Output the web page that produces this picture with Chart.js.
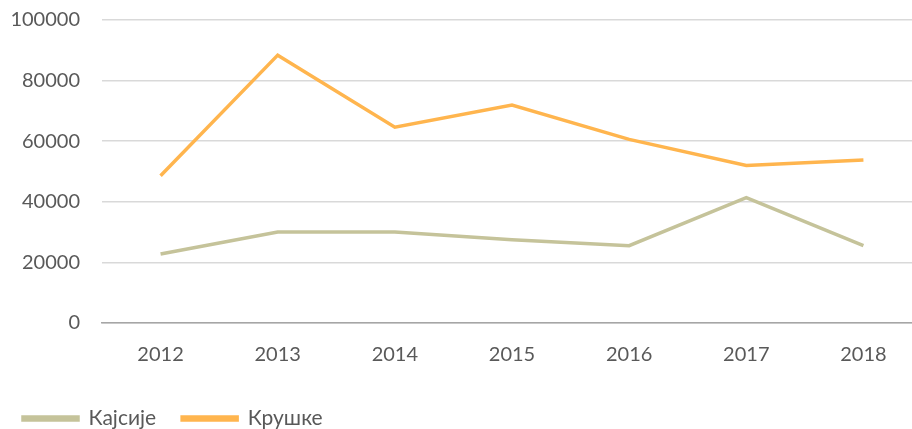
<!DOCTYPE html>
<html>
<head>
<meta charset="utf-8">
<script src="https://cdn.jsdelivr.net/npm/chart.js@4"></script>
<style>
    html, body { margin: 0; padding: 0; background: #fff; overflow: hidden; }
    #wrap { width: 922px; height: 429px; }
</style>
</head>
<body>
<div id="wrap"><canvas id="chart"></canvas></div>
<script>
    const years = ['2012', '2013', '2014', '2015', '2016', '2017', '2018'];
    const kajsije = [22800, 30000, 30000, 27500, 25500, 41400, 25500];
    const kruske = [48600, 88400, 64600, 71900, 60600, 52000, 53800];
    const yTicks = [0, 20000, 40000, 60000, 80000, 100000];

    const font = {family: 'Lato, "Open Sans", sans-serif', size: 20};
    const legendFont = {family: 'Lato, "Open Sans", sans-serif', size: 21};

    const ctx = document.getElementById('chart').getContext('2d');
    new Chart(ctx, {
        type: 'line',
        data: {
            labels: years,
            datasets: [
                {
                    label: 'Кајсије',
                    data: kajsije,
                    borderColor: '#c5c39a',
                    backgroundColor: '#c5c39a',
                    borderWidth: 3.5,
                    pointRadius: 0,
                    tension: 0
                },
                {
                    label: 'Крушке',
                    data: kruske,
                    borderColor: '#ffb54e',
                    backgroundColor: '#ffb54e',
                    borderWidth: 3.5,
                    pointRadius: 0,
                    tension: 0
                }
            ]
        },
        options: {
            responsive: true,
            maintainAspectRatio: false,
            animation: false,
            layout: {padding: {top: 20, left: -3, right: 0, bottom: -10}},
            scales: {
                x: {
                    offset: true,
                    afterFit: (axis) => { axis.height += 3; },
                    grid: {display: false},
                    border: {color: '#a6a6a6', width: 1.5},
                    ticks: {color: '#595959', font: font, padding: 12}
                },
                y: {
                    min: 0,
                    max: 100000,
                    afterBuildTicks: (axis) => { axis.ticks = yTicks.map(v => ({value: v})); },
                    afterFit: (axis) => { axis.width = 105; axis.paddingTop = 0; axis.paddingBottom = 0; },
                    grid: {color: '#d9d9d9', lineWidth: 1.5, drawTicks: false},
                    border: {display: false},
                    ticks: {color: '#595959', font: font, padding: 22, callback: (v) => String(v)}
                }
            },
            plugins: {
                tooltip: {enabled: false},
                legend: {
                    position: 'bottom',
                    align: 'start',
                    labels: {
                        color: '#595959',
                        font: legendFont,
                        boxWidth: 55,
                        boxHeight: 3,
                        padding: 26
                    }
                }
            }
        }
    });
</script>
</body>
</html>
